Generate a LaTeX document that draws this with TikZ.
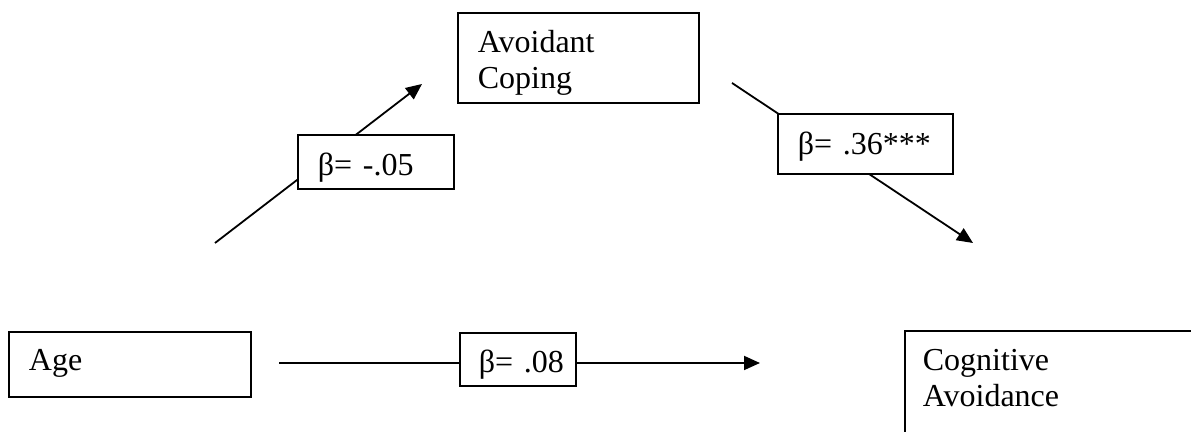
\documentclass[tikz,border=0pt]{standalone}
\usepackage{fontspec}
\setmainfont{Liberation Serif}
\usetikzlibrary{arrows.meta}
\tikzset{
  boxnode/.style={draw, line width=0.9pt, fill=white, anchor=north west,
    align=left, inner xsep=10pt, inner ysep=0pt,
    font=\fontsize{16pt}{18pt}\selectfont},
  conn/.style={line width=0.9pt, -{Triangle[length=8pt,width=7pt]}}
}
\begin{document}
\begin{tikzpicture}[x=0.5pt,y=-0.5pt]
\useasboundingbox (0,0) rectangle (1191,432);
\clip (0,0) rectangle (1191,432);
% connector end points
\coordinate (s1) at (215,243);
\coordinate (e1) at (422,84);
\coordinate (s2) at (732,83);
\coordinate (e2) at (973,243);
\coordinate (s3) at (279,363);
\coordinate (e3) at (760,363);
\draw[conn] (s1) -- (e1);
\draw[conn] (s2) -- (e2);
\draw[conn] (s3) -- (e3);
% boxes
\node[boxnode, text width=100.5pt, text height=20pt, text depth=25pt] (avoid) at (457,12) {Avoidant\\Coping};
\node[boxnode, text width=58pt, text height=20.5pt, text depth=6.5pt] (b1) at (297,134) {β= -.05};
\node[boxnode, text width=67.5pt, text height=20.5pt, text depth=9.5pt] (b2) at (777,113) {β= .36***};
\node[boxnode, text width=101pt, text height=19.5pt, text depth=13pt] (age) at (8,331) {Age};
\node[boxnode, inner xsep=0pt, text width=58pt, text height=20pt, text depth=6.5pt] (b3) at (459,332) {\hspace*{9.5pt}β= .08};
\node[boxnode, inner xsep=9pt, text width=200pt, text height=20pt, text depth=60pt] (cog) at (904,330) {Cognitive\\Avoidance};
\end{tikzpicture}
\end{document}
